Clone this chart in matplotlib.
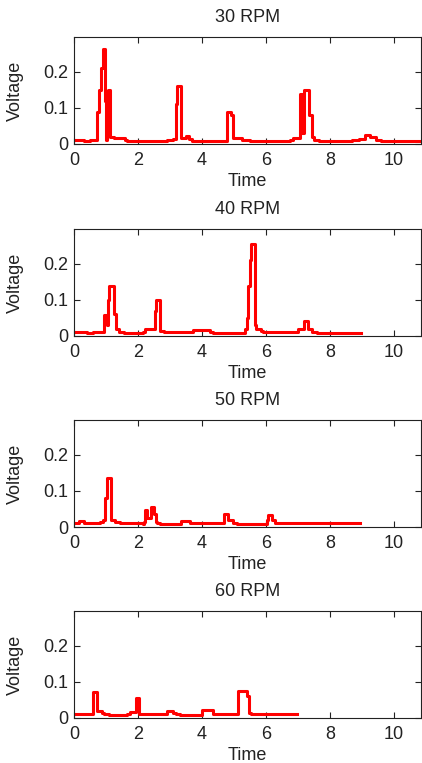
import matplotlib.pyplot as plt

plt.rcParams['font.family'] = ['Liberation Sans', 'DejaVu Sans']

titles = ['30 RPM', '40 RPM', '50 RPM', '60 RPM']

# step breakpoints (time, voltage)
t30 = [0, 0.3, 0.5, 0.73, 0.79, 0.83, 0.9, 0.97, 1.0, 1.04, 1.07, 1.13, 1.25, 1.6, 1.65,
       1.75, 2.9, 3.1, 3.19, 3.23, 3.36, 3.5, 3.6, 3.68, 4.77, 4.79, 4.9, 4.96, 5.24, 5.4,
       5.5, 6.75, 6.85, 7.08, 7.13, 7.19, 7.35, 7.43, 7.5, 7.65, 7.8, 8.7, 8.9, 9.09, 9.25,
       9.45, 9.6, 10.85]
v30 = [0.012, 0.009, 0.012, 0.09, 0.15, 0.21, 0.265, 0.12, 0.012, 0.12, 0.15, 0.02, 0.018,
       0.012, 0.009, 0.007, 0.012, 0.015, 0.11, 0.16, 0.018, 0.022, 0.015, 0.007, 0.012,
       0.088, 0.08, 0.018, 0.012, 0.01, 0.007, 0.012, 0.018, 0.14, 0.03, 0.15, 0.08, 0.02,
       0.012, 0.008, 0.007, 0.012, 0.015, 0.025, 0.02, 0.012, 0.008, 0.008]

t40 = [0, 0.4, 0.6, 0.94, 1.04, 1.07, 1.1, 1.14, 1.24, 1.32, 1.42, 1.55, 2.17, 2.22, 2.32,
       2.53, 2.57, 2.69, 2.8, 3.73, 4.25, 4.35, 5.34, 5.41, 5.45, 5.49, 5.55, 5.66, 5.7,
       5.85, 5.9, 6.85, 7.0, 7.19, 7.32, 7.45, 7.6, 8.96]
v40 = [0.011, 0.008, 0.011, 0.057, 0.03, 0.1, 0.14, 0.14, 0.06, 0.02, 0.01, 0.008, 0.012,
       0.02, 0.02, 0.07, 0.1, 0.015, 0.01, 0.016, 0.012, 0.008, 0.02, 0.05, 0.14, 0.21,
       0.255, 0.03, 0.02, 0.015, 0.01, 0.012, 0.02, 0.043, 0.02, 0.01, 0.008, 0.008]

t50 = [0, 0.15, 0.3, 0.8, 0.9, 0.98, 1.02, 1.15, 1.28, 1.43, 2.17, 2.2, 2.22, 2.29, 2.4,
       2.5, 2.57, 2.6, 2.7, 3.36, 3.62, 3.73, 3.83, 4.7, 4.8, 4.96, 5.1, 5.97, 6.02, 6.07,
       6.2, 6.3, 6.45, 8.94]
v50 = [0.012, 0.016, 0.01, 0.015, 0.02, 0.08, 0.135, 0.02, 0.015, 0.01, 0.008, 0.015, 0.047,
       0.025, 0.055, 0.035, 0.015, 0.01, 0.008, 0.016, 0.012, 0.01, 0.01, 0.035, 0.02,
       0.012, 0.008, 0.008, 0.02, 0.033, 0.02, 0.012, 0.01, 0.01]

t60 = [0, 0.6, 0.71, 0.87, 0.95, 1.1, 1.65, 1.75, 1.85, 1.93, 2.03, 2.1, 2.9, 3.1, 3.2,
       3.3, 3.99, 4.35, 4.45, 5.14, 5.4, 5.46, 5.55, 6.96]
v60 = [0.011, 0.072, 0.02, 0.015, 0.01, 0.008, 0.012, 0.016, 0.018, 0.055, 0.012, 0.01,
       0.02, 0.015, 0.01, 0.008, 0.022, 0.012, 0.01, 0.075, 0.06, 0.015, 0.01, 0.01]

series = [(t30, v30), (t40, v40), (t50, v50), (t60, v60)]

fig = plt.figure(figsize=(4.22, 7.63), dpi=100)
fs = 13

# panel tops in pixels, each panel 107 px tall
tops = [37, 229, 420, 611]
for i, (t, v) in enumerate(series):
    top = tops[i]
    ax = fig.add_axes([74 / 422, 1 - (top + 107) / 763, 347 / 422, 107 / 763])
    ax.plot(t, v, color='#ff0000', lw=2.2, drawstyle='steps-post')
    ax.set_xlim(0, 10.85)
    ax.set_ylim(0, 0.297)
    ax.set_xticks([0, 2, 4, 6, 8, 10])
    ax.set_yticks([0, 0.1, 0.2])
    ax.set_yticklabels(['0', '0.1', '0.2'])
    ax.tick_params(direction='in', top=True, right=True, labelsize=fs,
                   length=4, width=0.8, colors='#222222')
    ax.tick_params(axis='x', pad=6)
    ax.tick_params(axis='y', pad=4)
    for s in ax.spines.values():
        s.set_linewidth(0.8)
        s.set_color('#222222')
    ax.set_title(titles[i], fontsize=fs, pad=11, color='#222222')
    ax.set_xlabel('Time', fontsize=fs, color='#222222')
    ax.set_ylabel('Voltage', fontsize=fs, color='#222222')
    ax.xaxis.set_label_coords(0.5, -0.275)
    ax.yaxis.set_label_coords(-0.145, 0.5)

fig.savefig('out.png', dpi=100)
